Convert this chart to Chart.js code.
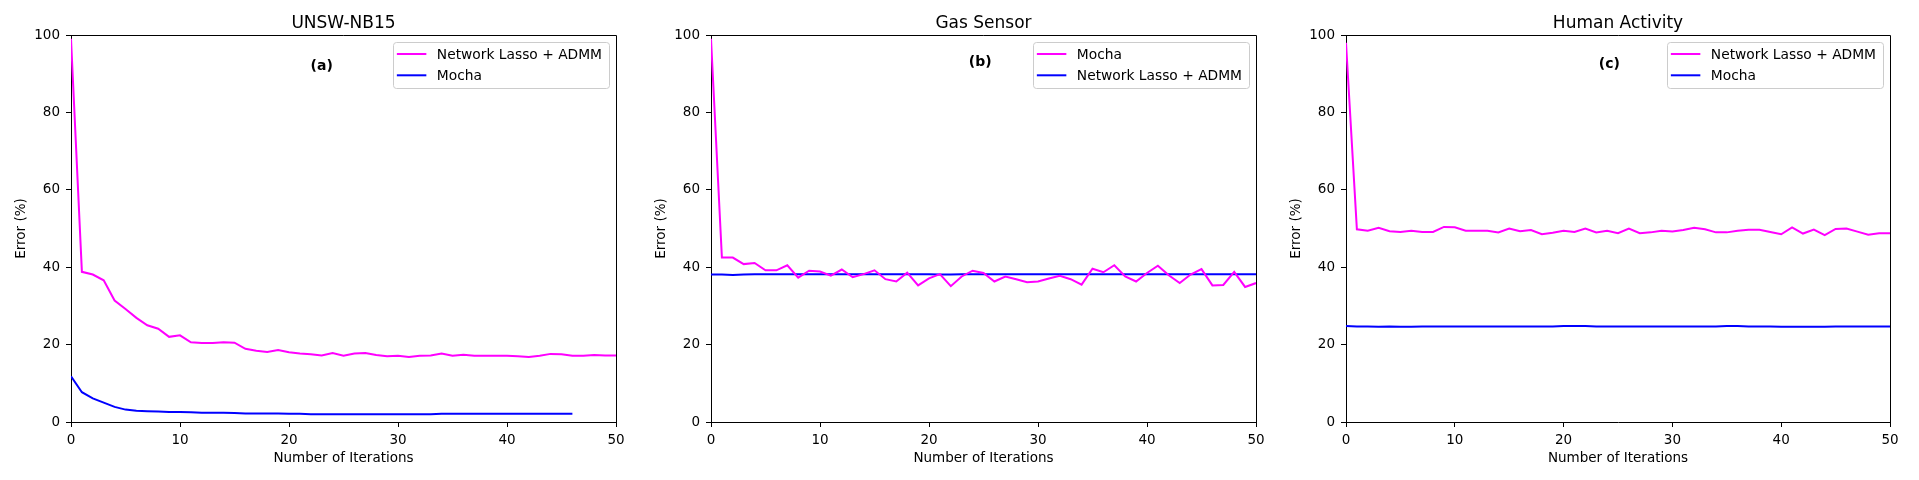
<!DOCTYPE html>
<html>
<head>
<meta charset="utf-8">
<script src="https://cdn.jsdelivr.net/npm/chart.js@4/dist/chart.umd.min.js"></script>
<style>
  html, body { margin: 0; padding: 0; background: #fff; }
  #wrap { position: relative; width: 1919px; height: 480px; overflow: hidden; }
  #wrap canvas { position: absolute; top: 0; }
</style>
</head>
<body>
<div id="wrap">
  <canvas id="c1" width="640" height="480" style="left:0px"></canvas>
  <canvas id="c2" width="640" height="480" style="left:640px"></canvas>
  <canvas id="c3" width="639" height="480" style="left:1280px"></canvas>
</div>
<script>
// ---- data ----
const panelTitles = ['UNSW-NB15', 'Gas Sensor', 'Human Activity'];
const panelTags = ['(a)', '(b)', '(c)'];
const lassoLabel = 'Network Lasso + ADMM';
const mochaLabel = 'Mocha';
const xTicks = [0, 10, 20, 30, 40, 50];
const yTicks = [0, 20, 40, 60, 80, 100];

// (a) UNSW-NB15
const unswLasso = [99, 38.8, 38.1, 36.6, 31.4, 29.2, 26.9, 25.0, 24.1, 22.0,
  22.4, 20.6, 20.4, 20.4, 20.6, 20.5, 18.9, 18.4, 18.1, 18.6,
  18.0, 17.7, 17.5, 17.2, 17.8, 17.1, 17.7, 17.8, 17.3, 17.0,
  17.1, 16.8, 17.1, 17.2, 17.7, 17.1, 17.4, 17.1, 17.1, 17.1,
  17.1, 17.0, 16.8, 17.1, 17.6, 17.5, 17.1, 17.1, 17.3, 17.2, 17.2];
const unswMocha = [11.8, 7.7, 6.1, 5.0, 3.9, 3.2, 2.9, 2.8, 2.7, 2.6,
  2.6, 2.5, 2.4, 2.4, 2.4, 2.3, 2.2, 2.2, 2.2, 2.2,
  2.1, 2.1, 2.0, 2.0, 2.0, 2.0, 2.0, 2.0, 2.0, 2.0,
  2.0, 2.0, 2.0, 2.0, 2.1, 2.1, 2.1, 2.1, 2.1, 2.1,
  2.1, 2.1, 2.1, 2.1, 2.1, 2.1, 2.1];

// (b) Gas Sensor
const gasMocha = [99, 42.5, 42.5, 40.8, 41.1, 39.2, 39.2, 40.5, 37.3, 39.1,
  38.9, 37.8, 39.4, 37.4, 38.2, 39.2, 36.9, 36.3, 38.6, 35.3,
  37.1, 38.2, 35.1, 37.6, 39.1, 38.5, 36.3, 37.6, 36.9, 36.1,
  36.3, 37.1, 37.8, 36.9, 35.5, 39.6, 38.7, 40.5, 37.6, 36.3,
  38.5, 40.4, 37.9, 35.9, 38.1, 39.5, 35.3, 35.4, 38.8, 34.9, 35.9];
const gasLasso = [38.1, 38.1, 38.0, 38.1, 38.2, 38.2, 38.2, 38.2, 38.2, 38.2,
  38.2, 38.2, 38.2, 38.2, 38.2, 38.2, 38.2, 38.2, 38.2, 38.2,
  38.2, 38.1, 38.1, 38.2, 38.2, 38.2, 38.2, 38.2, 38.2, 38.2,
  38.2, 38.2, 38.2, 38.2, 38.2, 38.2, 38.2, 38.2, 38.2, 38.2,
  38.2, 38.2, 38.2, 38.2, 38.2, 38.2, 38.2, 38.2, 38.2, 38.2, 38.2];

// (c) Human Activity
const humanLasso = [98, 49.8, 49.4, 50.2, 49.3, 49.1, 49.4, 49.1, 49.1, 50.4,
  50.3, 49.4, 49.4, 49.4, 49.0, 50.0, 49.3, 49.6, 48.5, 48.9,
  49.4, 49.1, 50.0, 49.0, 49.4, 48.8, 50.0, 48.8, 49.0, 49.4,
  49.2, 49.6, 50.2, 49.8, 49.0, 49.0, 49.4, 49.7, 49.7, 49.1,
  48.5, 50.3, 48.7, 49.7, 48.3, 49.9, 50.0, 49.2, 48.4, 48.8, 48.8];
const humanMocha = [24.8, 24.7, 24.7, 24.6, 24.7, 24.6, 24.6, 24.7, 24.7, 24.7,
  24.7, 24.7, 24.7, 24.7, 24.7, 24.7, 24.7, 24.7, 24.7, 24.7,
  24.8, 24.8, 24.8, 24.7, 24.7, 24.7, 24.7, 24.7, 24.7, 24.7,
  24.7, 24.7, 24.7, 24.7, 24.7, 24.8, 24.8, 24.7, 24.7, 24.7,
  24.6, 24.6, 24.6, 24.6, 24.6, 24.7, 24.7, 24.7, 24.7, 24.7, 24.7];

const MAGENTA = '#ff00ff';
const BLUE = '#0000ff';

Chart.defaults.font.family = "'DejaVu Sans', sans-serif";
Chart.defaults.color = '#000';

// matplotlib-like decorations: title, top/right spines, tag text, framed legend
const panelDecor = {
    id: 'panelDecor',
    afterDatasetsDraw(chart, args, opts) {
        const { ctx, chartArea: a, scales } = chart;
        ctx.save();

        // top and right spines
        ctx.strokeStyle = '#000';
        ctx.lineWidth = 1;
        ctx.beginPath();
        ctx.moveTo(a.left, a.top + 0.5);
        ctx.lineTo(a.right + 0.5, a.top + 0.5);
        ctx.lineTo(a.right + 0.5, a.bottom);
        ctx.stroke();

        // panel title
        ctx.fillStyle = '#000';
        ctx.font = "17px 'DejaVu Sans'";
        ctx.textAlign = 'center';
        ctx.textBaseline = 'alphabetic';
        ctx.fillText(opts.title, (a.left + a.right) / 2, 27.5);

        // (a) / (b) / (c)
        ctx.font = "bold 14px 'DejaVu Sans'";
        ctx.textBaseline = 'middle';
        ctx.fillText(opts.tag, scales.x.getPixelForValue(opts.tagAt[0]), scales.y.getPixelForValue(opts.tagAt[1]));

        // legend box
        ctx.font = "13.8px 'DejaVu Sans'";
        const items = chart.data.datasets;
        const textW = Math.max(...items.map(d => ctx.measureText(d.label).width));
        const w = 44 + textW + 7;
        const h = 46;
        const right = a.right - 7;
        const top = a.top + 7;
        const left = right - w;
        ctx.beginPath();
        ctx.roundRect(Math.round(left) + 0.5, Math.round(top) + 0.5, Math.round(w), h, 3);
        ctx.fillStyle = 'rgba(255,255,255,0.8)';
        ctx.fill();
        ctx.strokeStyle = '#cccccc';
        ctx.stroke();

        ctx.textAlign = 'left';
        items.forEach((d, i) => {
            const ry = top + 12 + i * 21.3;
            ctx.strokeStyle = d.borderColor;
            ctx.lineWidth = 2;
            ctx.beginPath();
            ctx.moveTo(left + 4, ry);
            ctx.lineTo(left + 33.5, ry);
            ctx.stroke();
            ctx.fillStyle = '#000';
            ctx.fillText(d.label, left + 44, ry + 1);
        });
        ctx.restore();
    }
};

function toPoints(values) {
    return values.map((v, i) => ({ x: i, y: v }));
}

function makePanel(canvasId, idx, series, yAxisWidth, rightPad, tagAt) {
    const ctx = document.getElementById(canvasId).getContext('2d');
    return new Chart(ctx, {
        type: 'line',
        data: {
            datasets: series.map(s => ({
                label: s.label,
                data: toPoints(s.values),
                borderColor: s.color,
                backgroundColor: s.color,
                borderWidth: 2,
                pointRadius: 0,
                tension: 0,
                fill: false
            }))
        },
        options: {
            responsive: false,
            animation: false,
            devicePixelRatio: 1,
            layout: { padding: { top: 35, right: rightPad, bottom: 0, left: 0 } },
            plugins: {
                legend: { display: false },
                tooltip: { enabled: false },
                panelDecor: { title: panelTitles[idx], tag: panelTags[idx], tagAt: tagAt }
            },
            scales: {
                x: {
                    type: 'linear',
                    min: xTicks[0],
                    max: xTicks[xTicks.length - 1],
                    afterBuildTicks: s => { s.ticks = xTicks.map(v => ({ value: v })); },
                    afterFit: s => { s.height = 58; },
                    ticks: { font: { size: 13.5 }, padding: 5, maxRotation: 0, color: '#000' },
                    grid: { drawOnChartArea: false, tickLength: 5, color: '#000' },
                    border: { color: '#000', width: 1 },
                    title: {
                        display: true,
                        text: 'Number of Iterations',
                        font: { size: 13.5 },
                        padding: { top: 0, bottom: 13 }
                    }
                },
                y: {
                    min: yTicks[0],
                    max: yTicks[yTicks.length - 1],
                    afterBuildTicks: s => { s.ticks = yTicks.map(v => ({ value: v })); },
                    afterFit: s => { s.width = yAxisWidth; },
                    ticks: { font: { size: 13.5 }, padding: 6, color: '#000' },
                    grid: { drawOnChartArea: false, tickLength: 5, color: '#000' },
                    border: { color: '#000', width: 1 },
                    title: {
                        display: true,
                        text: 'Error (%)',
                        font: { size: 13.5 },
                        padding: { top: yAxisWidth - 49.3 - 8.1, bottom: 0 }
                    }
                }
            }
        },
        plugins: [panelDecor]
    });
}

makePanel('c1', 0, [
    { label: lassoLabel, values: unswLasso, color: MAGENTA },
    { label: mochaLabel, values: unswMocha, color: BLUE }
], 71, 24, [23, 92]);

makePanel('c2', 1, [
    { label: mochaLabel, values: gasMocha, color: MAGENTA },
    { label: lassoLabel, values: gasLasso, color: BLUE }
], 71, 24, [24.7, 93]);

makePanel('c3', 2, [
    { label: lassoLabel, values: humanLasso, color: MAGENTA },
    { label: mochaLabel, values: humanMocha, color: BLUE }
], 66, 29, [24.2, 92.4]);
</script>
</body>
</html>
